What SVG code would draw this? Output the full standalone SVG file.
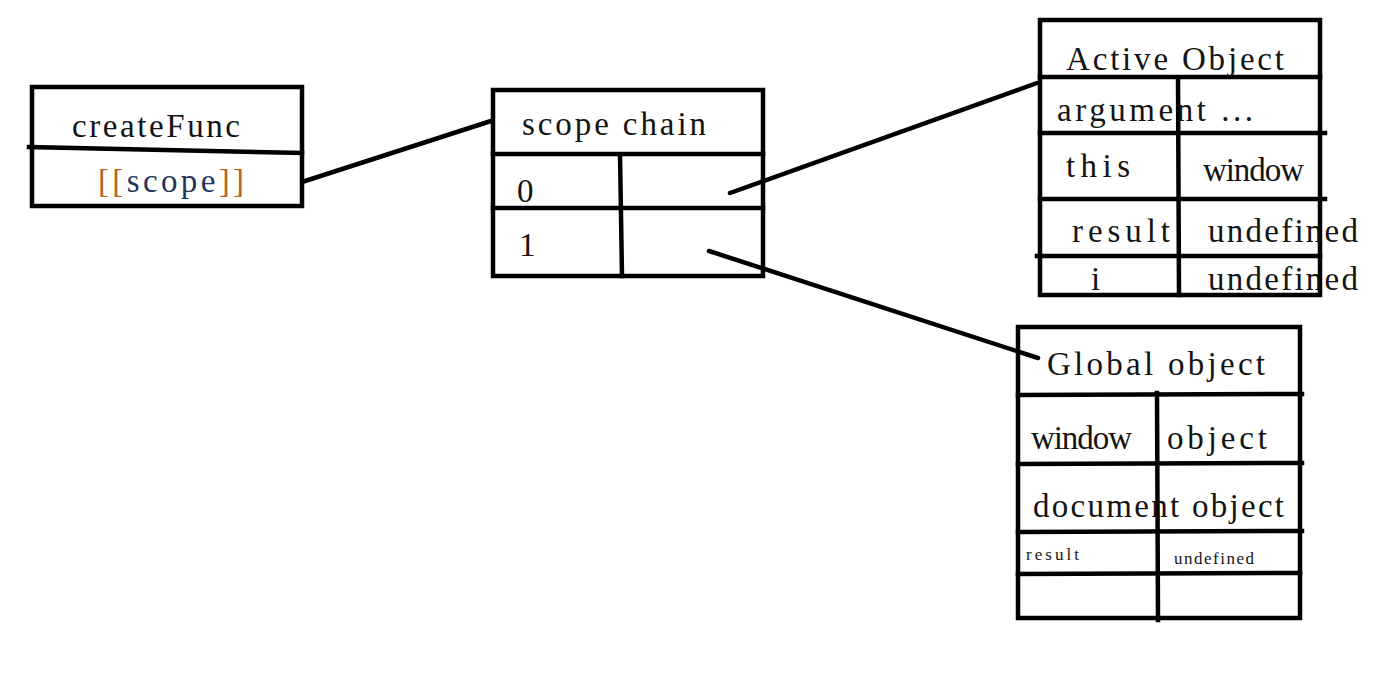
<svg xmlns="http://www.w3.org/2000/svg" width="1378" height="689" viewBox="0 0 1378 689">
<style>
.b{fill:none;stroke:#000;stroke-width:4.5;stroke-linecap:square}
.l{fill:none;stroke:#000;stroke-width:4.5;stroke-linecap:round}
.t{font-family:"Liberation Serif",serif;font-size:33px;fill:#141414}
.s{font-family:"Liberation Serif",serif;font-size:17px;fill:#141414}
</style>
<rect width="1378" height="689" fill="#fff"/>
<g id="connectors">
<line class="l" x1="302" y1="182" x2="491" y2="121"/>
<line class="l" x1="730" y1="193" x2="1037" y2="83"/>
<line class="l" x1="709" y1="251" x2="1038" y2="358"/>
</g>
<g id="createFunc">
<rect class="b" x="32" y="87" width="270" height="119"/>
<path class="b" d="M29 147 L302 153"/>
<text class="t" x="72" y="137" textLength="168" lengthAdjust="spacing">createFunc</text>
<text class="t" x="98" y="192" textLength="146" lengthAdjust="spacing"><tspan fill="#b5651d">[[</tspan><tspan fill="#23365e">scope</tspan><tspan fill="#b5651d">]]</tspan></text>
</g>
<g id="scopeChain">
<rect class="b" x="493" y="90" width="270" height="186"/>
<path class="b" d="M493 154 L763 154 M493 208 L763 208 M620 154 L622 276"/>
<text class="t" x="522" y="135" textLength="184" lengthAdjust="spacing">scope chain</text>
<text class="t" x="517" y="202">0</text>
<text class="t" x="519" y="256">1</text>
</g>
<g id="activeObject">
<rect class="b" x="1040" y="20" width="280" height="275"/>
<path class="b" d="M1040 77 L1320 77 M1040 133 L1325 133 M1040 199 L1325 199 M1037 256 L1320 256 M1178 77 L1179 295"/>
<text class="t" x="1066" y="70" textLength="218" lengthAdjust="spacing">Active Object</text>
<text class="t" x="1057" y="121" textLength="196" lengthAdjust="spacing">argument ...</text>
<text class="t" x="1066" y="177" textLength="64" lengthAdjust="spacing">this</text>
<text class="t" x="1203" y="181" textLength="101" lengthAdjust="spacing">window</text>
<text class="t" x="1072" y="242" textLength="98" lengthAdjust="spacing">result</text>
<text class="t" x="1208" y="242" textLength="150" lengthAdjust="spacing">undefined</text>
<text class="t" x="1091" y="290">i</text>
<text class="t" x="1208" y="290" textLength="150" lengthAdjust="spacing">undefined</text>
</g>
<g id="globalObject">
<rect class="b" x="1018" y="327" width="282" height="291"/>
<path class="b" d="M1018 395 L1302 394 M1018 464 L1302 463 M1018 532 L1302 531 M1018 574 L1300 573 M1157 393 L1158 620"/>
<text class="t" x="1047" y="375" textLength="218" lengthAdjust="spacing">Global object</text>
<text class="t" x="1031" y="449" textLength="101" lengthAdjust="spacing">window</text>
<text class="t" x="1167" y="449" textLength="100" lengthAdjust="spacing">object</text>
<text class="t" x="1033" y="517" textLength="251" lengthAdjust="spacing">document object</text>
<text class="s" x="1026" y="560" textLength="53" lengthAdjust="spacing">result</text>
<text class="s" x="1174" y="564" textLength="80" lengthAdjust="spacing">undefined</text>
</g>
</svg>
